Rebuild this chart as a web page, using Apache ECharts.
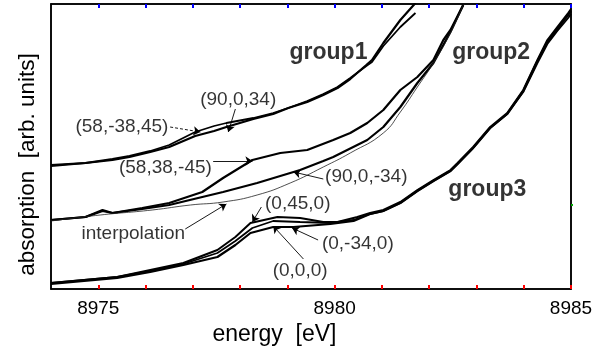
<!DOCTYPE html>
<html><head><meta charset="utf-8">
<script src="https://cdn.jsdelivr.net/npm/echarts@6/dist/echarts.min.js"></script>
<style>html,body{margin:0;padding:0;background:#fff}#c{width:611px;height:354px}</style>
</head><body><div id="c"></div>
<script>
// ---- data (energy [eV], absorption [arb. units]) ----
const xTicks = [8975, 8976, 8977, 8978, 8979, 8980, 8981, 8982, 8983, 8984, 8985];
const xLabels = [8975, 8980, 8985];

const group1A = [[8974.0,123],[8974.73,126],[8975.30,129],[8975.66,132],[8976.10,137],[8976.50,142],[8977.05,153],[8977.45,158],[8977.71,162],[8978.28,170],[8978.70,175],[8979.02,181],[8979.42,187],[8979.76,194],[8980.06,201],[8980.33,210],[8980.67,224],[8980.79,229],[8981.03,246],[8981.39,269],[8981.71,286]];
const group1B = [[8974.0,124],[8974.73,126],[8975.30,130],[8975.66,133],[8976.10,138],[8976.50,144],[8977.05,157],[8977.45,163],[8977.71,166],[8978.28,171],[8978.70,176],[8979.02,181],[8979.42,188],[8979.76,195],[8980.06,202],[8980.33,211],[8980.67,223],[8980.79,227],[8981.03,243],[8981.39,262],[8981.71,276]];

const group2A = [[8974.0,69],[8974.73,72],[8975.09,79],[8975.30,76],[8975.93,81],[8976.50,86],[8977.20,97],[8977.64,111],[8978.26,129],[8978.85,136],[8979.42,139],[8979.97,149],[8980.33,156],[8980.69,166],[8981.03,179],[8981.39,199],[8981.75,212],[8982.09,229],[8982.30,249],[8982.45,259],[8982.72,284]];
const group2B = [[8974.0,69],[8974.73,72],[8975.09,78],[8975.30,76],[8975.93,80],[8976.50,84],[8977.20,92],[8977.64,97],[8978.36,106],[8979.06,116],[8979.27,119],[8979.76,128],[8979.97,132],[8980.69,149],[8981.03,162],[8981.39,182],[8981.75,206],[8982.09,226],[8982.45,257],[8982.72,284]];
const interpolation = [[8974.0,68],[8975.04,74],[8976.14,79],[8976.95,84],[8977.64,87],[8978.36,94],[8979.06,106],[8979.76,122],[8980.33,136],[8981.03,156],[8981.39,177],[8981.75,202],[8982.09,226],[8982.45,256],[8982.72,284]];

const group3A = [[8974.0,6],[8975.40,12],[8976.10,19],[8976.80,26],[8977.52,39],[8977.90,52],[8978.22,66],[8978.79,72],[8979.27,71],[8979.76,67],[8980.06,67],[8980.48,72],[8980.75,76],[8981.03,79],[8981.39,87],[8981.75,99],[8982.09,109],[8982.45,119],[8982.60,126],[8982.93,142],[8983.29,162],[8983.65,176],[8983.99,199],[8984.29,229],[8984.50,249],[8984.71,262],[8984.94,276],[8985.0,280]];
const group3B = [[8974.0,6],[8975.40,12],[8976.10,18],[8976.80,25],[8977.52,36],[8977.90,48],[8978.26,61],[8978.70,68],[8979.27,67],[8979.91,66],[8980.40,69],[8980.75,75],[8981.03,78],[8981.39,86],[8981.75,98],[8982.09,108],[8982.45,118],[8982.60,125],[8982.93,141],[8983.29,161],[8983.65,175],[8983.99,197],[8984.29,226],[8984.50,245],[8984.71,258],[8984.94,271],[8985.0,275]];
const group3C = [[8974.0,5],[8975.40,11],[8976.10,17],[8976.80,24],[8977.52,32],[8977.90,44],[8978.22,56],[8978.70,62],[8979.13,62],[8979.91,65],[8980.40,68],[8980.75,75],[8981.03,78],[8981.39,86],[8981.75,98],[8982.09,108],[8982.45,118],[8982.60,125],[8982.93,141],[8983.29,161],[8983.65,175],[8983.99,198],[8984.29,228],[8984.50,247],[8984.71,260],[8984.94,274],[8985.0,278]];

const groupLabels = [[8979.87,236,'group1'],[8983.31,236,'group2'],[8983.23,99,'group3']];
const noteLabels = [[8977.96,189,'(90,0,34)'],[8975.50,162,'(58,-38,45)'],[8976.42,121,'(58,38,-45)'],[8980.67,112,'(90,0,-34)'],[8975.74,55,'interpolation'],[8979.22,85,'(0,45,0)'],[8980.49,45,'(0,-34,0)'],[8979.27,18,'(0,0,0)']];
const arrows = [
  [[8976.52,162],[8977.16,157],'dashed'],
  [[8977.90,180],[8977.75,157],'solid'],
  [[8977.43,128],[8978.26,128],'solid'],
  [[8979.76,110],[8979.13,117],'solid'],
  [[8976.84,60],[8977.71,85],'solid'],
  [[8978.45,82],[8978.26,67],'solid'],
  [[8979.65,49],[8979.10,61],'solid'],
  [[8979.34,30],[8978.70,63],'solid']
];

// ---- chart ----
const FONT = '"Liberation Sans", Arial, Helvetica, sans-serif';
const chart = echarts.init(document.getElementById('c'), null, {renderer: 'canvas'});

function curve(data, width, color, smooth) {
  return {type: 'line', data: data, symbol: 'none', showSymbol: false, smooth: !!smooth,
    xAxisIndex: 0, yAxisIndex: 0,
    lineStyle: {width: width, color: color}, z: 3, silent: true};
}
function textSeries(items, size, weight) {
  return {type: 'scatter', symbolSize: 0, silent: true, z: 5, xAxisIndex: 0, yAxisIndex: 0,
    data: items.map(d => ({value: [d[0], d[1]], name: d[2]})),
    label: {show: true, position: 'inside', formatter: p => p.name, color: '#000',
      fontSize: size, fontWeight: weight, fontFamily: FONT}};
}

const interpSeries = curve(interpolation, 0.8, '#222', true);
interpSeries.markLine = {
  silent: true, animation: false, symbol: ['none', 'arrow'], symbolSize: 7,
  label: {show: false},
  data: arrows.map(a => [
    {coord: a[0], lineStyle: {type: a[2] === 'dashed' ? [3, 2] : 'solid', width: 0.9, color: '#000'}},
    {coord: a[1]}
  ])
};

const option = {
  animation: false,
  backgroundColor: '#fff',
  grid: [
    {left: 51, right: 40, top: 4, bottom: 65, show: true, borderColor: '#000', borderWidth: 1.5, outerBoundsMode: 'none', containLabel: false},
    {left: 51, right: 40, top: 4, bottom: 65, show: false, outerBoundsMode: 'none', containLabel: false}
  ],
  xAxis: [{
    type: 'value', gridIndex: 0, min: 8974, max: 8985, position: 'bottom',
    axisLine: {show: true, onZero: false, lineStyle: {color: '#000', width: 1.5}},
    splitLine: {show: false},
    axisTick: {show: true, inside: true, length: 4, customValues: xTicks, lineStyle: {color: '#f00', width: 2}},
    axisLabel: {show: true, customValues: xLabels, formatter: v => String(Math.round(v)), color: '#000', fontSize: 19, fontFamily: FONT, margin: 10},
    name: 'energy  [eV]', nameLocation: 'middle', nameGap: 33,
    nameTextStyle: {color: '#000', fontSize: 23, fontFamily: FONT, padding: [0, 73, 0, 0]}
  }, {
    type: 'value', gridIndex: 1, min: 8974, max: 8985, position: 'top',
    axisLine: {show: true, onZero: false, lineStyle: {color: '#000', width: 1.5}},
    splitLine: {show: false},
    axisTick: {show: true, inside: true, length: 4, customValues: xTicks, lineStyle: {color: '#00f', width: 2}},
    axisLabel: {show: false}
  }],
  yAxis: [{
    type: 'value', gridIndex: 0, min: 0, max: 285, position: 'left',
    axisLine: {show: true, onZero: false, lineStyle: {color: '#000', width: 1.5}},
    axisTick: {show: false}, axisLabel: {show: false}, splitLine: {show: false},
    name: 'absorption  [arb. units]', nameLocation: 'middle', nameGap: 12, nameRotate: 90,
    nameTextStyle: {color: '#000', fontSize: 22.5, fontFamily: FONT, padding: [0, 36, 0, 0]}
  }, {
    type: 'value', gridIndex: 1, min: 0, max: 285, position: 'right',
    axisLine: {show: true, onZero: false, lineStyle: {color: '#000', width: 1.5}},
    axisTick: {show: true, inside: false, length: 2, customValues: [84], lineStyle: {color: '#0a0', width: 2}},
    axisLabel: {show: false}, splitLine: {show: false}
  }],
  series: [
    curve(group1A, 2.2, '#000'),
    curve(group1B, 1.8, '#000'),
    curve(group2A, 2.2, '#000'),
    curve(group2B, 2.2, '#000'),
    interpSeries,
    curve(group3A, 2.0, '#000'),
    curve(group3B, 1.8, '#000'),
    curve(group3C, 2.2, '#000'),
    textSeries(groupLabels, 23, 'bold'),
    textSeries(noteLabels, 19, 'normal')
  ]
};
chart.setOption(option);
</script>
</body></html>
